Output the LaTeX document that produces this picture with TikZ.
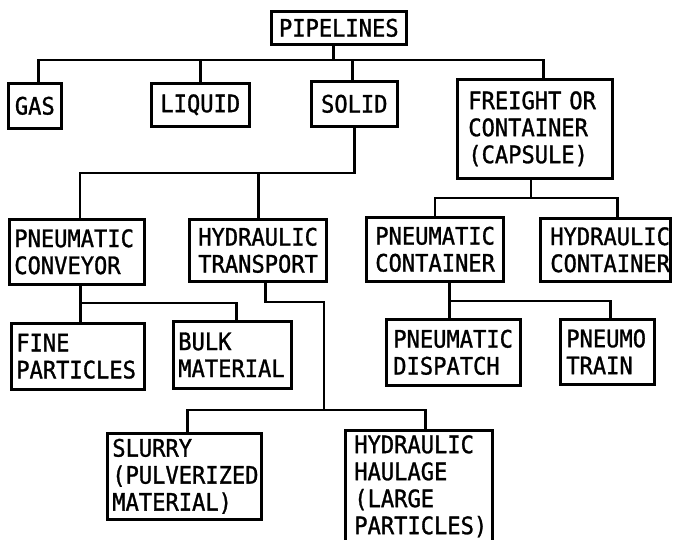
\documentclass[tikz,border=0pt]{standalone}
\usepackage{fontspec}
\newfontfamily\chartmono[FakeStretch=0.92,FakeBold=1.2]{DejaVu Sans Mono}
\begin{document}
\begin{tikzpicture}[x=1pt,y=-1pt,
  bx/.style={draw, line width=2.6pt, anchor=north west, inner ysep=0pt, align=left,
    font=\chartmono\fontsize{24}{27}\selectfont},
  ln/.style={line width=2.6pt}]
\useasboundingbox (0,0) rectangle (674,539);
\fill[white] (0,0) rectangle (674,539);
\clip (0,0) rectangle (674,539);
% boxes
\node[bx, align=center, inner xsep=4pt, text width=127pt, minimum height=33pt] (pipe) at (270,10) {PIPELINES};
\node[bx, align=center, inner xsep=4pt, text width=45pt, minimum height=45pt] (gas) at (7,82) {GAS};
\node[bx, align=center, inner xsep=4pt, text width=90pt, minimum height=43pt] (liquid) at (150,82) {LIQUID};
\node[bx, align=center, inner xsep=4pt, text width=78pt, minimum height=45pt] (solid) at (310,80) {SOLID};
\node[bx, inner xsep=11pt, text width=133pt, minimum height=99pt] (freight) at (456,78) {FREIGHT~OR\\CONTAINER\\(CAPSULE)};
\node[bx, inner xsep=5pt, text width=125pt, minimum height=65pt] (pconv) at (8,218) {PNEUMATIC\\CONVEYOR};
\node[bx, inner xsep=9pt, text width=119pt, minimum height=62pt] (htrans) at (188,218) {HYDRAULIC\\TRANSPORT};
\node[bx, inner xsep=9pt, text width=119pt, minimum height=64pt] (pcont) at (365,216) {PNEUMATIC\\CONTAINER};
\node[bx, inner xsep=10pt, text width=110pt, minimum height=63pt] (hcont) at (539,217) {HYDRAULIC\\CONTAINER};
\node[bx, inner xsep=5pt, text width=123pt, minimum height=66pt] (fine) at (10,322) {FINE\\PARTICLES};
\node[bx, inner xsep=5pt, text width=108pt, minimum height=67pt] (bulk) at (172,320) {BULK\\MATERIAL};
\node[bx, inner xsep=7pt, text width=120pt, minimum height=66pt] (pdisp) at (385,318) {PNEUMATIC\\DISPATCH};
\node[bx, inner xsep=6pt, text width=82pt, minimum height=65pt] (ptrain) at (559,318) {PNEUMO\\TRAIN};
\node[bx, inner xsep=5pt, text width=144pt, minimum height=86pt] (slurry) at (106,432) {SLURRY\\(PULVERIZED\\MATERIAL)};
\node[bx, inner xsep=9pt, text width=129pt, minimum height=112pt] (hhaul) at (344,429) {HYDRAULIC\\HAULAGE\\(LARGE\\PARTICLES)};
% rail levels
\coordinate (r1) at (0,60);
\coordinate (r2) at (0,173);
\coordinate (r3) at (0,198);
\coordinate (r4) at (0,303);
\coordinate (r5) at (0,302);
\coordinate (r6) at (0,301);
\coordinate (r7) at (0,410);
\coordinate (hj) at (324,410);
% connectors
\draw[ln] ([xshift=-5.5pt]pipe.south) -- ([xshift=-5.5pt]pipe.south |- r1);
\draw[ln] ([xshift=3.5pt]gas.north) |- ([xshift=8.5pt]freight.north |- r1) -- ([xshift=8.5pt]freight.north);
\draw[ln] (liquid.north) -- (liquid.north |- r1);
\draw[ln] ([xshift=-2pt]solid.north) -- ([xshift=-2pt]solid.north |- r1);
\draw[ln] (solid.south) -- (solid.south |- r2) -| ([xshift=3pt]pconv.north);
\draw[ln] ([xshift=0.5pt]htrans.north) -- ([xshift=0.5pt]htrans.north |- r2);
\draw[ln] ([xshift=-4pt]freight.south) -- ([xshift=-4pt]freight.south |- r3);
\draw[ln] (pcont.north) |- ([xshift=12pt]hcont.north |- r3) -- ([xshift=12pt]hcont.north);
\draw[ln] ([xshift=3.5pt]pconv.south) -- ([xshift=3.5pt]pconv.south |- r4);
\draw[ln] ([xshift=2.5pt]fine.north) |- ([xshift=4pt]bulk.north |- r4) -- ([xshift=4pt]bulk.north);
\draw[ln] ([xshift=7.5pt]htrans.south) -- ([xshift=7.5pt]htrans.south |- r5) -| (hj);
\draw[ln] ([xshift=3pt]slurry.north) |- ([xshift=6.5pt]hhaul.north |- r7) -- ([xshift=6.5pt]hhaul.north);
\draw[ln] ([xshift=14.5pt]pcont.south) -- ([xshift=14.5pt]pcont.south |- r6);
\draw[ln] ([xshift=-4pt]pdisp.north) |- ([xshift=3pt]ptrain.north |- r6) -- ([xshift=3pt]ptrain.north);
\end{tikzpicture}
\end{document}
